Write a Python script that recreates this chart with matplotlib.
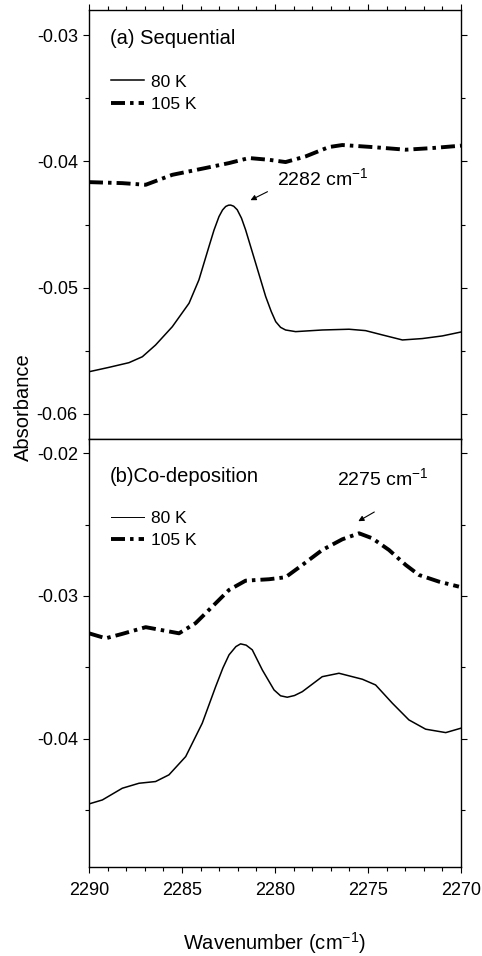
"""IR absorbance spectra, sequential vs co-deposition, 80 K and 105 K."""

import matplotlib

matplotlib.use("Agg")
import matplotlib.pyplot as plt
from matplotlib.ticker import MultipleLocator

plt.rcParams["font.family"] = ["Liberation Sans", "DejaVu Sans"]
plt.rcParams["mathtext.fontset"] = "custom"
plt.rcParams["mathtext.rm"] = "Liberation Sans"
plt.rcParams["mathtext.it"] = "Liberation Sans:italic"
plt.rcParams["axes.unicode_minus"] = False

# (a) Sequential
seq_80_x = [2290.00, 2288.92, 2287.85, 2287.13, 2286.42, 2285.52, 2284.62, 2284.09,
            2283.55, 2283.28, 2283.01, 2282.82, 2282.65, 2282.50, 2282.38, 2282.22,
            2282.03, 2281.80, 2281.58, 2281.04, 2280.50, 2280.20, 2279.96, 2279.70,
            2279.43, 2278.89, 2277.46, 2276.02, 2275.13, 2274.23, 2273.15, 2272.08,
            2271.00, 2270.00]
seq_80_y = [-0.05667, -0.05632, -0.05595, -0.05548, -0.05455, -0.05310, -0.05124, -0.04939,
            -0.04675, -0.04545, -0.04437, -0.04385, -0.04357, -0.04347, -0.04346, -0.04355,
            -0.04383, -0.04450, -0.04542, -0.04806, -0.05071, -0.05190, -0.05270, -0.05315,
            -0.05336, -0.05349, -0.05336, -0.05330, -0.05341, -0.05375, -0.05415, -0.05404,
            -0.05383, -0.05352]
seq_105_x = [2290.00, 2288.21, 2286.95, 2285.52, 2283.73, 2282.47, 2281.40, 2280.32,
             2279.43, 2278.35, 2277.10, 2276.38, 2274.77, 2272.97, 2271.54, 2270.00]
seq_105_y = [-0.04164, -0.04172, -0.04185, -0.04106, -0.04052, -0.04013, -0.03973, -0.03987,
             -0.04005, -0.03960, -0.03886, -0.03870, -0.03886, -0.03907, -0.03894, -0.03875]

# (b) Co-deposition
co_80_x = [2290.00, 2289.28, 2288.21, 2287.31, 2286.42, 2285.70, 2284.80, 2283.91,
           2283.19, 2282.80, 2282.47, 2282.10, 2281.85, 2281.55, 2281.22, 2280.68,
           2280.05, 2279.70, 2279.34, 2278.95, 2278.53, 2277.46, 2276.56, 2275.30,
           2274.59, 2273.69, 2272.80, 2271.90, 2270.82, 2270.00]
co_80_y = [-0.04458, -0.04430, -0.04348, -0.04313, -0.04301, -0.04254, -0.04126, -0.03892,
           -0.03636, -0.03505, -0.03413, -0.03355, -0.03336, -0.03345, -0.03378, -0.03519,
           -0.03659, -0.03700, -0.03710, -0.03698, -0.03671, -0.03566, -0.03542, -0.03584,
           -0.03624, -0.03752, -0.03869, -0.03934, -0.03958, -0.03927]
co_105_x = [2290.00, 2289.10, 2288.21, 2286.95, 2285.16, 2284.27, 2283.37, 2282.47,
            2281.58, 2280.32, 2279.43, 2278.53, 2277.46, 2276.38, 2275.48, 2274.77,
            2273.87, 2272.97, 2272.26, 2271.18, 2270.11]
co_105_y = [-0.03262, -0.03297, -0.03266, -0.03219, -0.03262, -0.03191, -0.03075, -0.02958,
            -0.02893, -0.02883, -0.02869, -0.02783, -0.02678, -0.02603, -0.02561, -0.02596,
            -0.02678, -0.02783, -0.02853, -0.02900, -0.02935]

panel_titles = ["(a) Sequential", "(b)Co-deposition"]
series_labels = ["80 K", "105 K"]

dash_style = (3.6, 1.3, 0.9, 1.3)

fig = plt.figure(figsize=(4.82, 9.56), dpi=100)
ax_top = fig.add_axes([0.1846, 0.5408, 0.7718, 0.4487])
ax_bot = fig.add_axes([0.1846, 0.0931, 0.7718, 0.4477])

ax_top.plot(seq_80_x, seq_80_y, color="black", lw=1.1, label=series_labels[0])
ax_top.plot(seq_105_x, seq_105_y, color="black", lw=2.8, dashes=dash_style,
            label=series_labels[1])
ax_bot.plot(co_80_x, co_80_y, color="black", lw=1.1, label=series_labels[0])
ax_bot.plot(co_105_x, co_105_y, color="black", lw=2.8, dashes=dash_style,
            label=series_labels[1])

ax_top.set_ylim(-0.0620, -0.0280)
ax_bot.set_ylim(-0.0490, -0.0190)

for ax in (ax_top, ax_bot):
    ax.set_xlim(2290, 2270)
    ax.xaxis.set_major_locator(MultipleLocator(5))
    ax.xaxis.set_minor_locator(MultipleLocator(1))
    ax.yaxis.set_major_locator(MultipleLocator(0.01))
    ax.yaxis.set_minor_locator(MultipleLocator(0.005))
    ax.yaxis.set_major_formatter(plt.FormatStrFormatter("%.2f"))
    ax.tick_params(which="both", direction="out", right=True, labelsize=13,
                   color="black", width=0.8)
    ax.tick_params(which="major", length=4.5)
    ax.tick_params(which="minor", length=3)
    for sp in ax.spines.values():
        sp.set_linewidth(1.0)

ax_top.tick_params(which="both", top=True, labelbottom=False)
ax_bot.tick_params(which="both", top=False)
ax_bot.tick_params(axis="x", pad=6)

# panel titles
ax_top.text(0.056, 0.921, panel_titles[0], transform=ax_top.transAxes, fontsize=14.5)
ax_bot.text(0.056, 0.900, panel_titles[1], transform=ax_bot.transAxes, fontsize=14.5)

# legends
for ax, top in ((ax_top, 0.850), (ax_bot, 0.833)):
    leg = ax.legend(loc="upper left", bbox_to_anchor=(0.058, top), frameon=False,
                    fontsize=12.5, handlelength=1.9, handletextpad=0.45,
                    labelspacing=0.42, borderpad=0, borderaxespad=0)
    if ax is ax_bot:
        leg.get_lines()[0].set_linewidth(0.7)

# peak annotations
ax_top.annotate("", xy=(2281.45, -0.04317), xytext=(2280.27, -0.0423),
                arrowprops=dict(arrowstyle="-|>", color="black", lw=0.8,
                                mutation_scale=8))
ax_top.text(2279.9, -0.04187, "2282 cm$^{-1}$", fontsize=14, va="baseline")
ax_bot.annotate("", xy=(2275.65, -0.02486), xytext=(2274.53, -0.02402),
                arrowprops=dict(arrowstyle="-|>", color="black", lw=0.8,
                                mutation_scale=8))
ax_bot.text(2276.67, -0.02222, "2275 cm$^{-1}$", fontsize=14, va="baseline")

fig.text(0.049, 1 - 407 / 956, "Absorbance", rotation=90, fontsize=14.5,
         ha="center", va="center")
fig.text(0.5705, 0.0136, "Wavenumber (cm$^{-1}$)", fontsize=14.5,
         ha="center", va="center")

fig.savefig("out.png", dpi=100)
